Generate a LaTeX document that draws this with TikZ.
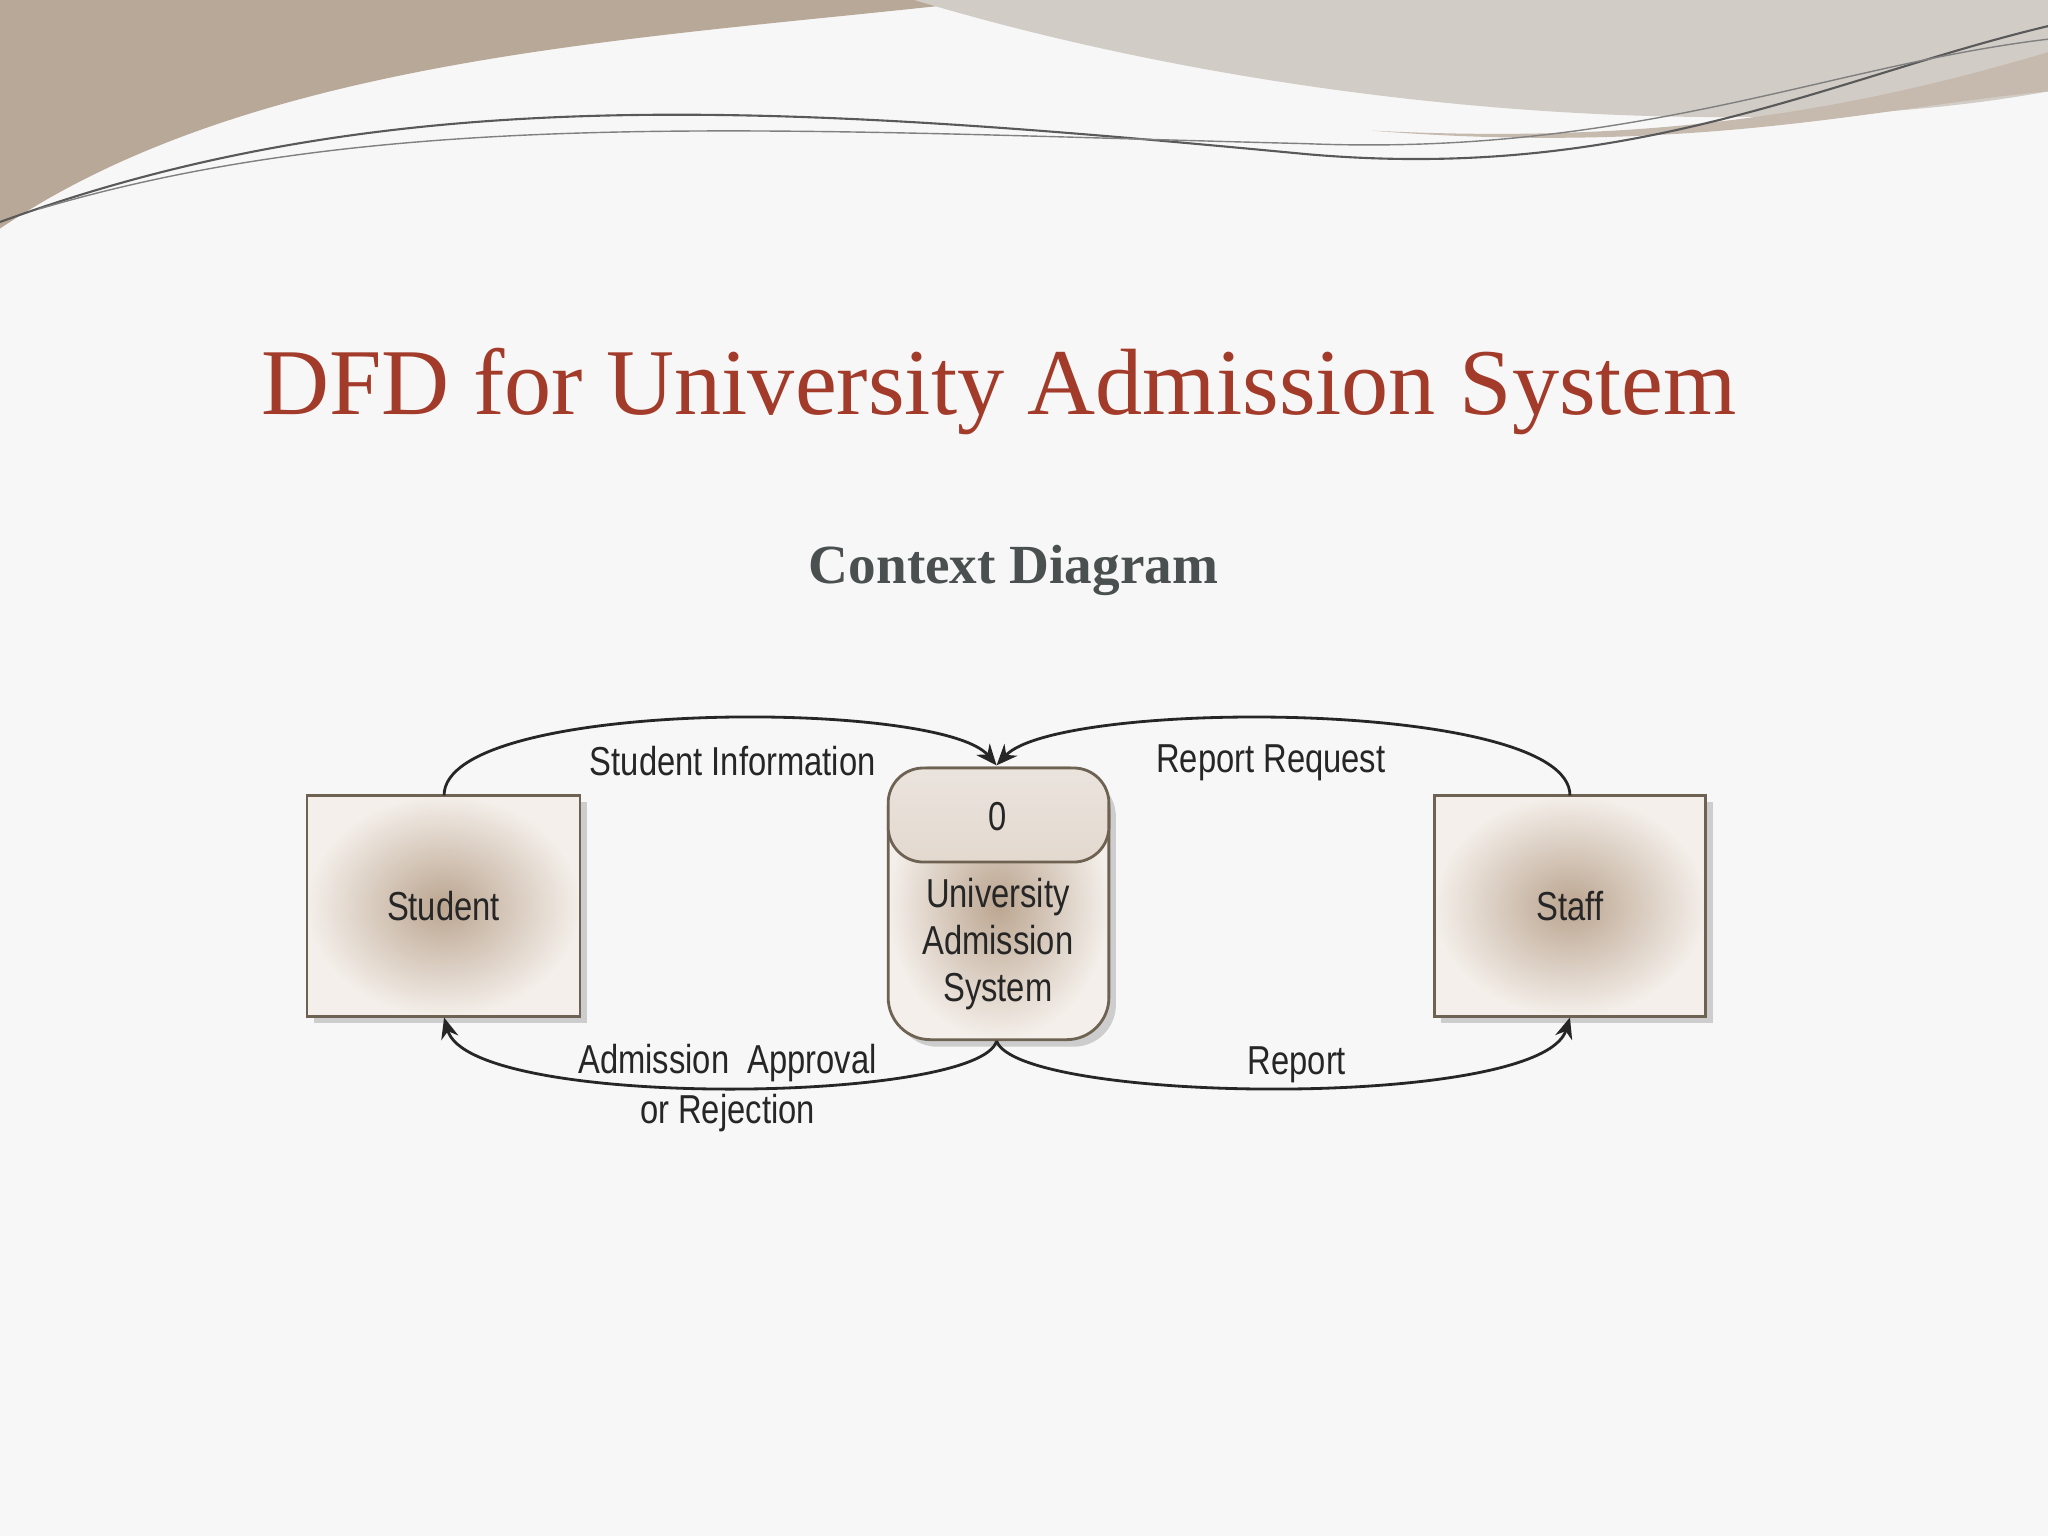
\documentclass[tikz,border=0pt]{standalone}
\usepackage{fontspec}
\setmainfont{Liberation Serif}
\newfontfamily\nar[FakeStretch=0.81]{Liberation Sans}
\usetikzlibrary{arrows.meta,shadows}
\definecolor{titlered}{HTML}{A33B2A}
\definecolor{subgray}{HTML}{4A4F4F}
\definecolor{boxedge}{HTML}{6E6253}
\definecolor{boxmid}{HTML}{BBA590}
\definecolor{boxout}{HTML}{F4EFEA}
\definecolor{wave1}{HTML}{B8A898}
\definecolor{wave2}{HTML}{D2CCC6}
\tikzset{
  entity/.style={draw=boxedge,line width=0.8pt,inner color=boxmid,outer color=boxout,
    drop shadow={shadow xshift=2pt,shadow yshift=-2pt,opacity=0.35}},
  lbl/.style={font=\nar\fontsize{11.5}{13}\selectfont,text=black!85},
  flow/.style={line width=0.8pt,black!85,-{Stealth[length=6pt,width=5pt]}}
}
\begin{document}
\begin{tikzpicture}[x=0.013061cm,y=-0.013061cm]
\useasboundingbox (0,0) rectangle (1568,1176);
\fill[white!97!black] (0,0) rectangle (1568,1176);
% top waves
\fill[wave1] (0,0) -- (760,0) .. controls (500,30) and (200,40) .. (0,175) -- cycle;
\fill[wave2] (700,0) -- (1568,0) -- (1568,70) .. controls (1350,110) and (1000,90) .. (700,0) -- cycle;
\fill[wave1!80!white] (1568,40) .. controls (1400,90) and (1250,110) .. (1050,100) .. controls (1300,120) and (1450,80) .. (1568,70) -- cycle;
\draw[gray!70!black,line width=0.6pt] (0,170) .. controls (300,60) and (600,80) .. (1000,118) .. controls (1250,140) and (1400,60) .. (1568,20);
\draw[gray,line width=0.4pt] (30,160) .. controls (300,80) and (600,100) .. (1000,110) .. controls (1250,120) and (1400,50) .. (1568,30);
% titles
\node[text=titlered,font=\fontsize{26.8}{32}\selectfont] (title) at (765,300) {DFD for University Admission System};
\node[text=subgray,font=\bfseries\fontsize{15.7}{19}\selectfont] (sub) at (776,437) {Context Diagram};
% entities
\path[entity] (235,609) rectangle (444,778);
\node[lbl] (studt) at (339.5,694) {Student};
\path[entity] (1098,609) rectangle (1306,778);
\node[lbl] (staff) at (1202,694) {Staff};
\coordinate (studtop) at (340,609);
\coordinate (studbot) at (340,779);
\coordinate (stafftop) at (1202,609);
\coordinate (staffbot) at (1202,779);
% process
\path[entity,rounded corners=12pt] (680,588) rectangle (849,796);
\draw[boxedge,line width=0.8pt,top color=white!70!boxmid,bottom color=boxout!70!boxmid,rounded corners=10pt] (680,588) rectangle (849,660);
\node[lbl] (zero) at (764,625) {0};
\node[lbl,align=center,font=\nar\fontsize{11.5}{13.4}\selectfont] (proc) at (764,723) {University\\Admission\\System};
\coordinate (ptop) at (763,586);
\coordinate (pbot) at (763,797);
% flows
\draw[flow] (studtop) .. controls (340,535) and (720,535) .. (ptop);
\draw[flow] (stafftop) .. controls (1202,535) and (810,535) .. (ptop);
\draw[flow] (pbot) .. controls (750,845) and (360,850) .. (studbot);
\draw[flow] (pbot) .. controls (780,845) and (1180,850) .. (staffbot);
\node[lbl] (l1) at (561,583) {Student Information};
\node[lbl] (l2) at (973,584) {Report Request};
\node[lbl,align=center] (l3) at (557,833) {Admission\ \ Approval\\[1pt]or Rejection};
\node[lbl] (l4) at (993,815) {Report};
\end{tikzpicture}
\end{document}
